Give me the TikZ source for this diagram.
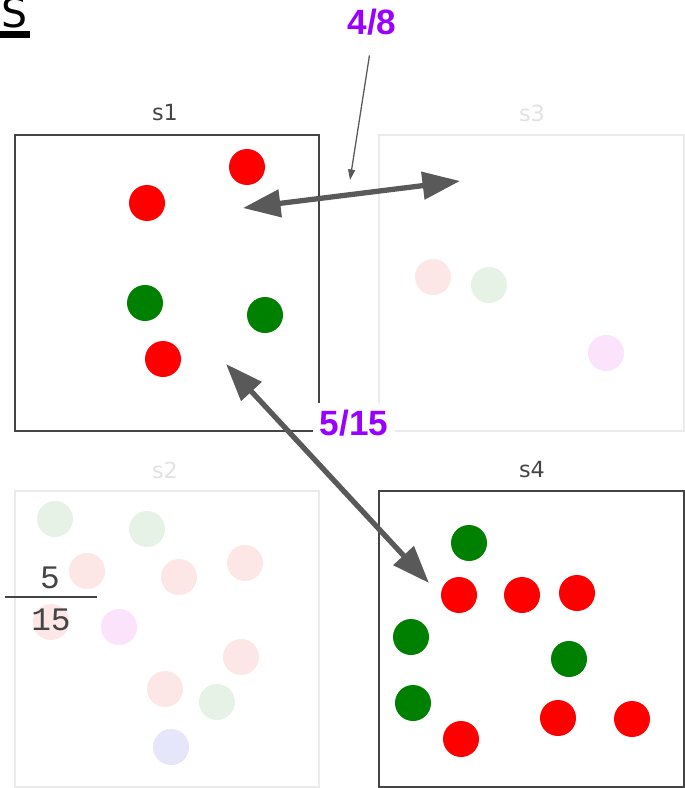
\documentclass[tikz,border=0pt]{standalone}
\usepackage{fontspec}
\setmainfont{DejaVu Sans}
\newfontfamily\numfont{Liberation Sans}
\newfontfamily\fracfont{Liberation Mono}
\usetikzlibrary{arrows.meta}

\definecolor{boxdark}{HTML}{444444}
\definecolor{boxfade}{HTML}{EBEBEB}
\definecolor{labfade}{HTML}{E2E2E2}
\definecolor{arrowgray}{HTML}{595959}
\definecolor{labpurple}{HTML}{9900FF}
\definecolor{dotred}{HTML}{FF0000}
\definecolor{dotgreen}{HTML}{008000}
\definecolor{palered}{HTML}{FDE6E6}
\definecolor{palegreen}{HTML}{E6F2E6}
\definecolor{palemagenta}{HTML}{FBE3FB}
\definecolor{paleblue}{HTML}{E6E6FB}

\tikzset{
  panel/.style={draw=boxdark, line width=1.3pt},
  fadepanel/.style={draw=boxfade, line width=1.3pt},
  setlabel/.style={font=\fontsize{19}{22}\selectfont, text=boxdark},
  fadelabel/.style={font=\fontsize{19}{22}\selectfont, text=labfade},
  ratio/.style={font=\numfont\bfseries\fontsize{30}{36}\selectfont, text=labpurple},
  bigarrow/.style={draw=arrowgray, line width=4.5pt,
    {Triangle[length=32pt,width=23pt]}-{Triangle[length=32pt,width=23pt]}},
  thinarrow/.style={draw=arrowgray, line width=1.1pt, -{Triangle[length=9pt,width=6pt]}}
}

\begin{document}
\begin{tikzpicture}[x=0.03cm, y=-0.03cm]
  \useasboundingbox (0,0) rectangle (685,788);

  % title
  \node[font=\fontsize{35}{40}\selectfont, anchor=base west, inner sep=0pt] (title) at (1,28) {S};
  \fill (0,31) rectangle (30,38);

  % faded sets s2 and s3
  \draw[fadepanel] (379,135) rectangle (684,431);
  \draw[fadepanel] (15,491) rectangle (319,787);
  \node[fadelabel] (s3) at (532,113) {s3};
  \node[fadelabel] (s2) at (165,470) {s2};

  \foreach \x/\y/\c in {433/277/palered, 489/285/palegreen, 606/353/palemagenta,
      55/519/palegreen, 147/529/palegreen, 87/571/palered, 179/577/palered,
      245/563/palered, 51/622/palered, 119/627/palemagenta, 241/657/palered,
      165/689/palered, 217/702/palegreen, 171/747/paleblue} {
    \fill[\c] (\x,\y) circle[radius=0.54cm];
  }

  % sets s1 and s4
  \draw[panel] (15,135) rectangle (319,431);
  \draw[panel] (379,491) rectangle (684,787);
  \node[setlabel] (s1) at (165,113) {s1};
  \node[setlabel] (s4) at (532,470) {s4};

  \foreach \x/\y/\c in {247/167/dotred, 147/203/dotred, 145/303/dotgreen,
      265/315/dotgreen, 163/359/dotred,
      469/543/dotgreen, 459/595/dotred, 522/595/dotred, 577/593/dotred,
      411/637/dotgreen, 569/659/dotgreen, 413/703/dotgreen, 558/718/dotred,
      632/719/dotred, 461/739/dotred} {
    \fill[\c] (\x,\y) circle[radius=0.54cm];
  }

  % fraction
  \node[font=\fracfont\fontsize{28}{32}\selectfont, text=boxdark] (num) at (50,578) {5};
  \node[font=\fracfont\fontsize{28}{32}\selectfont, text=boxdark] (den) at (51,620) {15};
  \coordinate (barl) at (5,597);
  \coordinate (barr) at (97,597);
  \draw[boxdark, line width=1.2pt] (barl) -- (barr);

  % comparisons
  \coordinate (s1top) at (243,208);
  \coordinate (s3in) at (460,181);
  \coordinate (s1low) at (226,364);
  \coordinate (s4in) at (429,583);
  \draw[bigarrow] (s1top) -- (s3in);
  \draw[bigarrow] (s1low) -- (s4in);

  \node[ratio] (r48) at (372,22) {4/8};
  \coordinate (p48) at (350,180);
  \draw[thinarrow, shorten <=14pt] (r48.south) -- (p48);

  \node[ratio, fill=white, inner sep=6pt] (r515) at (354,423) {5/15};
\end{tikzpicture}
\end{document}
